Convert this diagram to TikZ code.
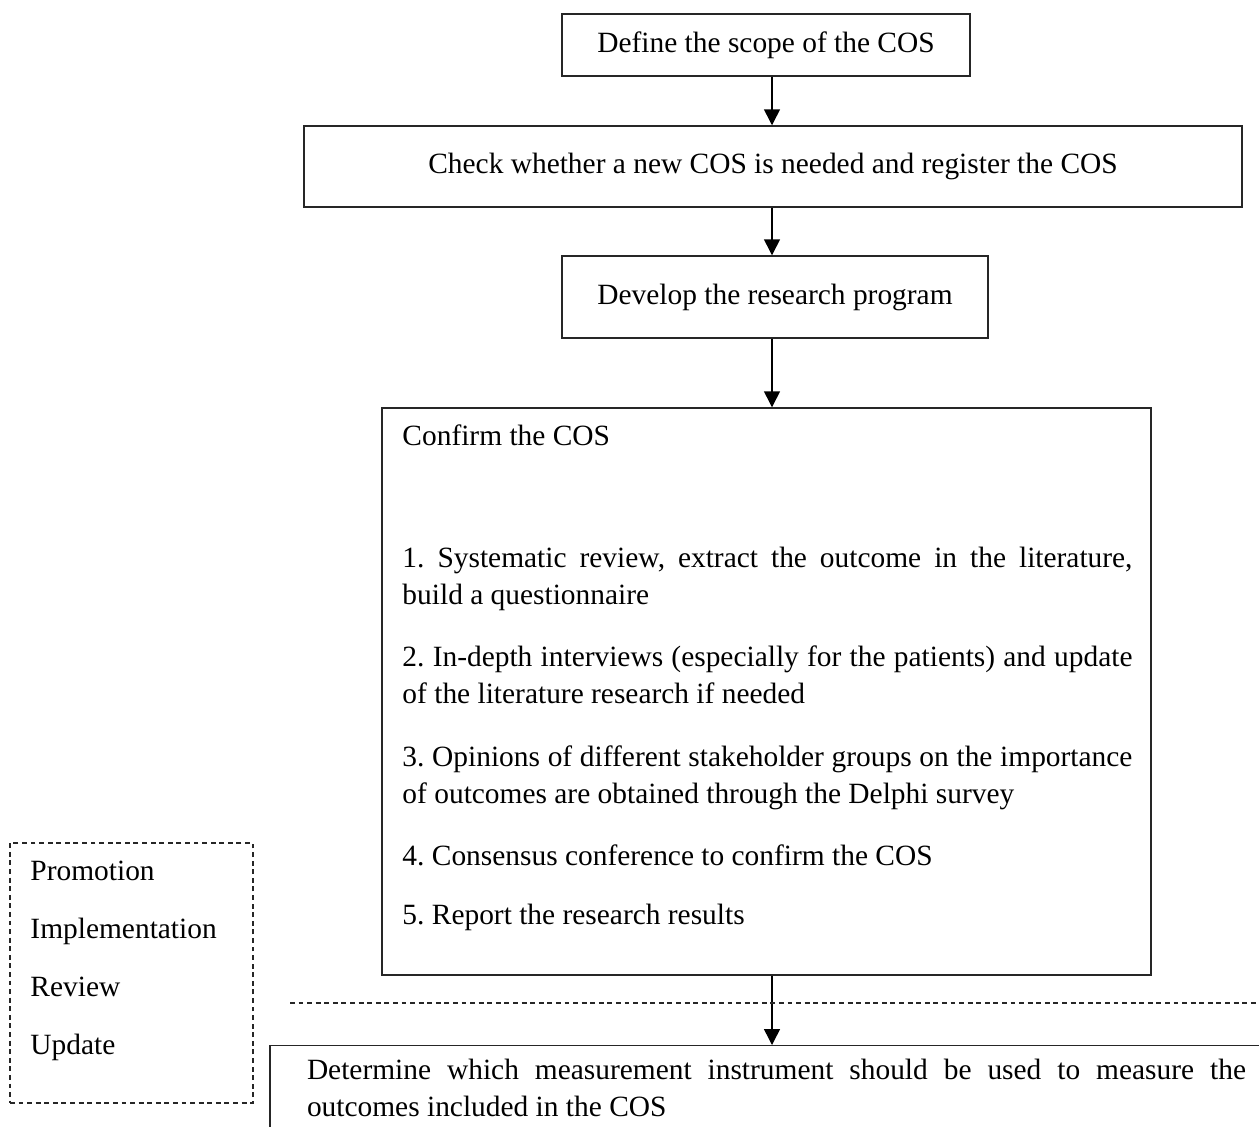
\documentclass[tikz,border=0pt]{standalone}
\usepackage{fontspec}
\setmainfont{Liberation Serif}
\usetikzlibrary{arrows.meta}
\frenchspacing
\newcommand\pxu{0.408pt}
\newcommand\mainsize{\fontsize{12}{15.1}\selectfont\hyphenpenalty=10000\exhyphenpenalty=10000\tolerance=9999}
\begin{document}
\begin{tikzpicture}[x=0.408pt,y=-0.408pt,
  box/.style={draw=black!85, line width=0.6pt, inner sep=0pt, align=center, font=\mainsize},
  txt/.style={inner sep=0pt, font=\mainsize},
  item/.style={txt, anchor=north west, text width=730*\pxu, align=justify},
  dbox/.style={draw=black!85, line width=0.5pt, dash pattern=on 2pt off 1.5pt},
  arr/.style={line width=0.6pt, -{Triangle[length=6.5pt,width=6.5pt]}}]
\useasboundingbox (0,0) rectangle (1259,1126);
\clip (0,0) rectangle (1259,1126);

\node[box, minimum width=408*\pxu, minimum height=62*\pxu] (scope) at (766,45) {Define the scope of the COS};
\node[box, minimum width=938*\pxu, minimum height=81*\pxu] (check) at (773,166.5) {Check whether a new COS is needed and register the COS};
\node[box, minimum width=426*\pxu, minimum height=82*\pxu] (develop) at (775,297) {Develop the research program};
\node[box, minimum width=769*\pxu, minimum height=567*\pxu] (confirm) at (766.5,691.5) {};

\node[txt, anchor=base west] (title) at (402,445) {Confirm the COS};
\node[item] (item1) at (402,547) {1. Systematic review, extract the outcome in the literature, build a questionnaire};
\node[item] (item2) at (402,645) {2. In-depth interviews (especially for the patients) and update of the literature research if needed};
\node[item] (item3) at (402,745) {3. Opinions of different stakeholder groups on the importance of outcomes are obtained through the Delphi survey};
\node[item] (item4) at (402,844) {4. Consensus conference to confirm the COS};
\node[item] (item5) at (402,904) {5. Report the research results};

\node[box, anchor=north, inner xsep=37*\pxu, inner ysep=13*\pxu, text width=939*\pxu, align=justify] (measure) at (776.5,1045) {Determine which measurement instrument should be used to measure the outcomes included in the COS};

\coordinate (ax) at (772,0);
\draw[arr] (scope.south -| ax) -- (check.north -| ax);
\draw[arr] (check.south -| ax) -- (develop.north -| ax);
\draw[arr] (develop.south -| ax) -- (confirm.north -| ax);
\draw[arr] (confirm.south -| ax) -- (measure.north -| ax);

\coordinate (dl) at (290,1003);
\coordinate (dr) at (1259,1003);
\draw[dbox] (dl) -- (dr);

\node[dbox, minimum width=243*\pxu, minimum height=260*\pxu] (tasks) at (131.5,973) {};
\foreach \w [count=\i] in {Promotion,Implementation,Review,Update}
  \node[txt, anchor=base west] (task\i) at (30,822+58*\i) {\w};

\end{tikzpicture}
\end{document}
